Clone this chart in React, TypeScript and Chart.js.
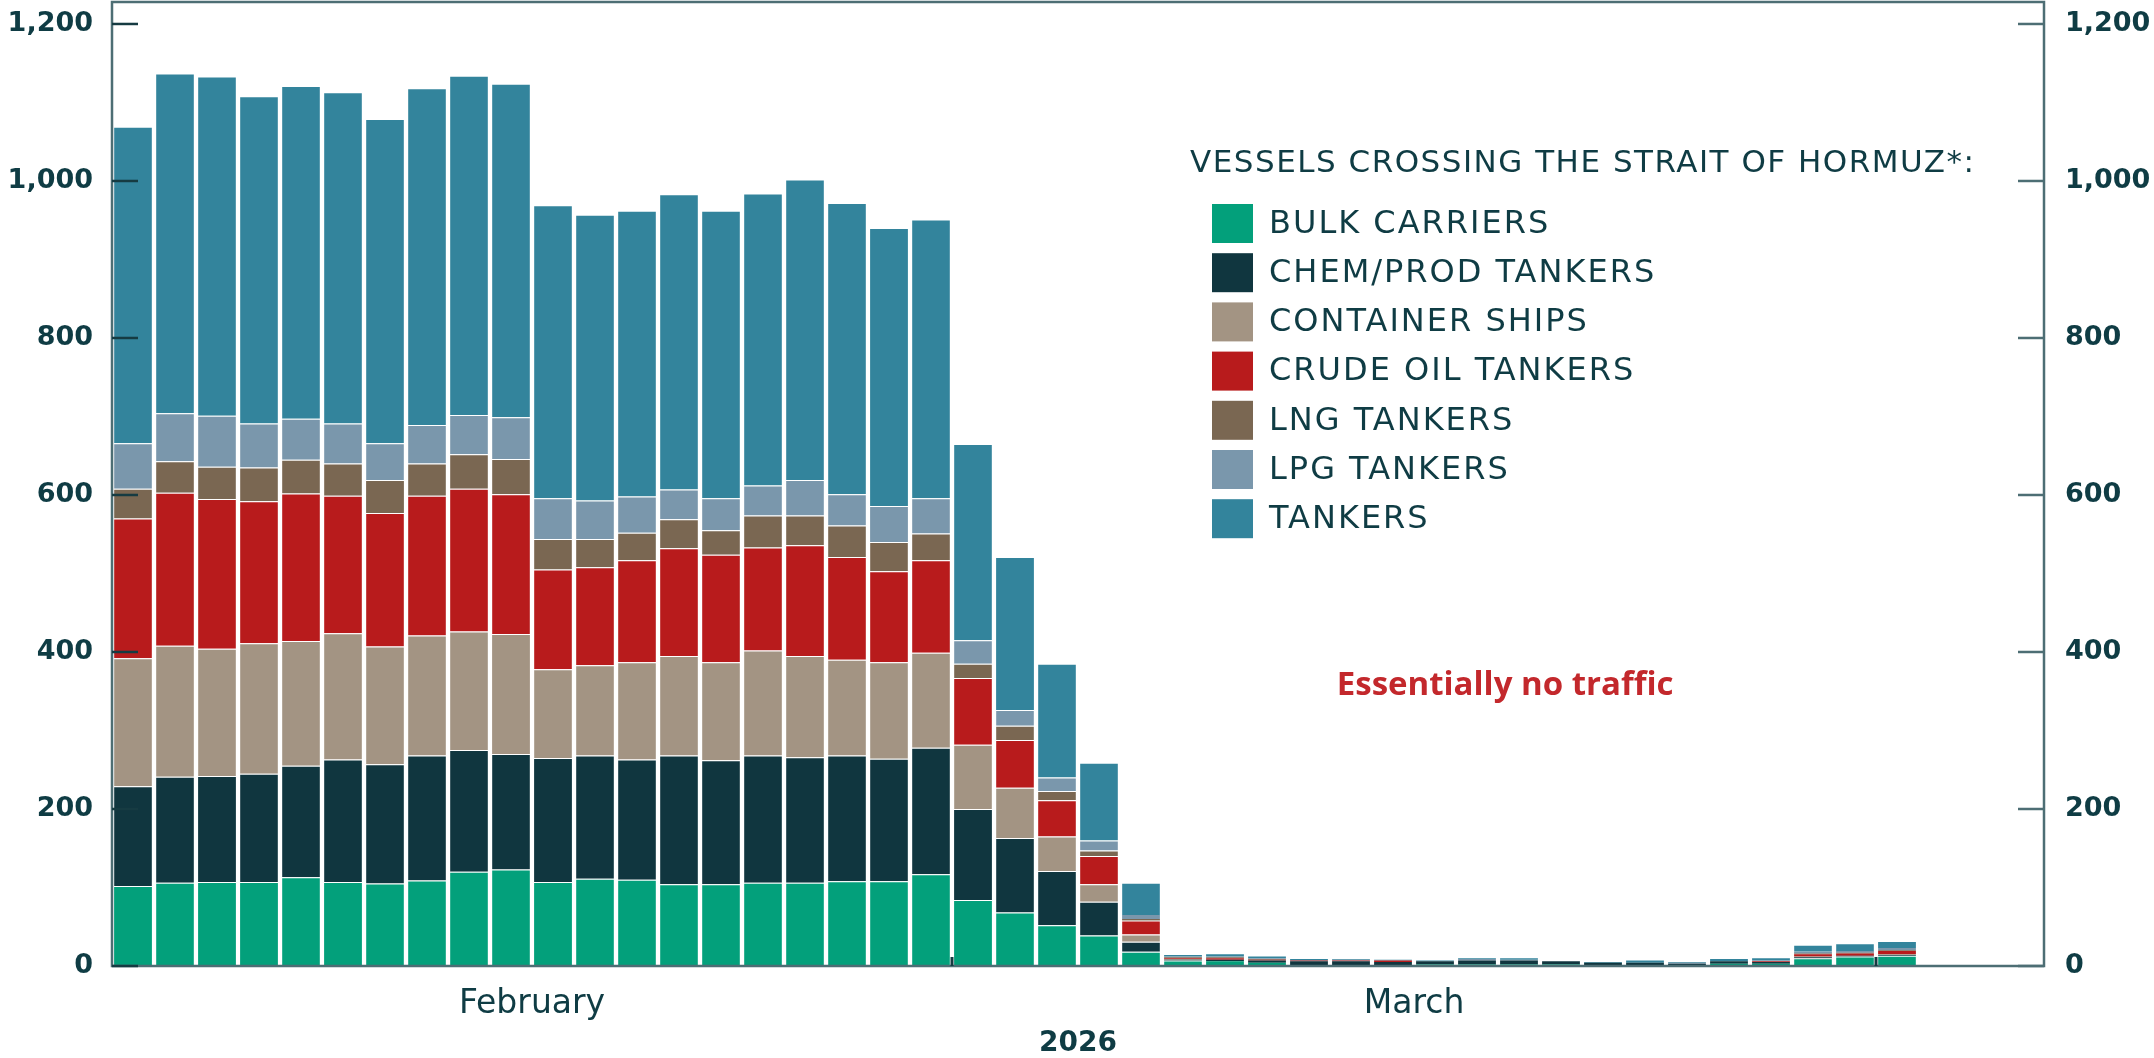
import React, { useEffect, useRef } from 'react';
import { Chart, registerables } from 'chart.js';

Chart.register(...registerables);

// ---- categories (one bar per day) ----
const dayLabels = [
  '2026-02-09', '2026-02-10', '2026-02-11', '2026-02-12', '2026-02-13', '2026-02-14', '2026-02-15',
  '2026-02-16', '2026-02-17', '2026-02-18', '2026-02-19', '2026-02-20', '2026-02-21', '2026-02-22',
  '2026-02-23', '2026-02-24', '2026-02-25', '2026-02-26', '2026-02-27', '2026-02-28',
  '2026-03-01', '2026-03-02', '2026-03-03', '2026-03-04', '2026-03-05', '2026-03-06', '2026-03-07',
  '2026-03-08', '2026-03-09', '2026-03-10', '2026-03-11', '2026-03-12', '2026-03-13', '2026-03-14',
  '2026-03-15', '2026-03-16', '2026-03-17', '2026-03-18', '2026-03-19', '2026-03-20', '2026-03-21',
  '2026-03-22', '2026-03-23', '2026-03-24', '2026-03-25', '2026-03-26',
];

// ---- series values ----
const bulkCarriers = [102, 106, 107, 107, 113, 107, 105, 109, 120, 123, 107, 111, 110, 104, 104, 106, 106, 108, 108, 117, 84, 68, 52, 39, 18, 7, 6, 4, 1, 1, 1, 2, 2, 2, 2, 1, 1, 0, 3, 3, 10, 12, 13, null, null, null];
const chemProdTankers = [127, 135, 135, 138, 142, 156, 152, 159, 155, 147, 158, 157, 153, 164, 158, 162, 160, 160, 156, 161, 116, 95, 69, 43, 13, 1, 2, 3, 5, 5, 4, 4, 5, 5, 4, 3, 3, 3, 3, 2, 1, 1, 1, null, null, null];
const containerShips = [163, 167, 162, 166, 159, 161, 150, 153, 151, 153, 113, 115, 124, 127, 125, 134, 129, 122, 123, 121, 82, 64, 44, 22, 9, 1, 0, 0, 0, 0, 0, 0, 0, 0, 0, 0, 0, 0, 0, 0, 1, 0, 1, null, null, null];
const crudeOilTankers = [178, 195, 191, 181, 188, 175, 170, 178, 182, 178, 127, 125, 130, 137, 137, 131, 141, 131, 116, 118, 85, 61, 46, 36, 18, 1, 2, 1, 1, 1, 2, 0, 0, 0, 0, 0, 0, 0, 0, 1, 3, 3, 4, null, null, null];
const lngTankers = [38, 40, 41, 43, 43, 41, 42, 41, 44, 45, 39, 36, 35, 37, 31, 41, 38, 40, 37, 34, 18, 18, 12, 7, 2, 1, 1, 1, 0, 0, 0, 0, 0, 0, 0, 0, 0, 0, 0, 0, 1, 1, 1, null, null, null];
const lpgTankers = [58, 61, 65, 56, 52, 51, 47, 49, 50, 53, 52, 49, 46, 38, 41, 38, 45, 40, 46, 45, 30, 20, 17, 13, 5, 1, 1, 1, 0, 1, 0, 0, 2, 1, 0, 0, 0, 1, 0, 1, 2, 2, 3, null, null, null];
const tankers = [403, 433, 432, 417, 424, 422, 413, 429, 432, 425, 373, 364, 364, 376, 366, 372, 383, 371, 354, 355, 250, 195, 145, 99, 41, 2, 3, 2, 2, 1, 1, 1, 1, 2, 0, 1, 3, 1, 3, 3, 9, 10, 9, null, null, null];

const seriesNames = ['BULK CARRIERS', 'CHEM/PROD TANKERS', 'CONTAINER SHIPS', 'CRUDE OIL TANKERS', 'LNG TANKERS', 'LPG TANKERS', 'TANKERS'];

// ---- tick labels ----
const yTickValues = [0, 200, 400, 600, 800, 1000, 1200];
const monthLabels = ['February', 'March'];
const monthCenters = [9.5, 30.5];
const yearLabel = '2026';
const dayBoundaryTicks = [20, 42];
const legendTitle = 'VESSELS CROSSING THE STRAIT OF HORMUZ*:';
const noteText = 'Essentially no traffic';
const notePos = { x: 32.67, y: 357 };

// ---- styles ----
const COLORS = ['#03A07B', '#10363F', '#A39483', '#B81B1C', '#7A6752', '#7A97AC', '#33849C'];
const TEXT = '#0F3C44';
const AXIS = '#4D6E74';
const TICK_DARK = '#163B42';
const NUM_FONT = "'DejaVu Sans'";

const noPad = (s: any) => {
  s.paddingTop = 0;
  s.paddingBottom = 0;
};

const framePlugin = {
  id: 'frame',
  afterDatasetsDraw(chart: any) {
    const { ctx, chartArea: a, scales } = chart;
    ctx.save();
    // frame
    ctx.strokeStyle = AXIS;
    ctx.lineWidth = 2.5;
    ctx.strokeRect(a.left, a.top, a.right - a.left, a.bottom - a.top);
    // inward y ticks
    const y = scales.y;
    for (const t of y.ticks) {
      const p = y.getPixelForValue(t.value);
      ctx.strokeStyle = TICK_DARK;
      ctx.beginPath();
      ctx.moveTo(a.left, p);
      ctx.lineTo(a.left + 26, p);
      ctx.stroke();
      ctx.strokeStyle = AXIS;
      ctx.beginPath();
      ctx.moveTo(a.right - 26, p);
      ctx.lineTo(a.right, p);
      ctx.stroke();
    }
    // small day boundary ticks
    const x = scales.x;
    ctx.strokeStyle = TICK_DARK;
    ctx.lineWidth = 3;
    for (const i of dayBoundaryTicks) {
      const p = (x.getPixelForValue(i - 1) + x.getPixelForValue(i)) / 2;
      ctx.beginPath();
      ctx.moveTo(p, a.bottom);
      ctx.lineTo(p, a.bottom - 9);
      ctx.stroke();
    }
    // annotation
    ctx.fillStyle = '#C3282C';
    ctx.font = "bold 33px 'Open Sans'";
    ctx.textAlign = 'center';
    ctx.textBaseline = 'middle';
    ctx.fillText(noteText, scales.xm.getPixelForValue(notePos.x), y.getPixelForValue(notePos.y));
    // legend
    const lx = a.left + 1078;
    ctx.textAlign = 'left';
    ctx.fillStyle = TEXT;
    ctx.font = "31px 'DejaVu Sans'";
    (ctx as any).letterSpacing = '1.5px';
    ctx.fillText(legendTitle, lx, a.top + 162);
    (ctx as any).letterSpacing = '2px';
    ctx.font = "32px 'DejaVu Sans'";
    chart.data.datasets.forEach((ds: any, i: number) => {
      const cy = a.top + 221.5 + i * 49.2;
      ctx.fillStyle = ds.backgroundColor;
      ctx.fillRect(lx + 22, cy - 19.5, 41, 39);
      ctx.fillStyle = TEXT;
      ctx.fillText(ds.label, lx + 79, cy + 1);
    });
    ctx.restore();
  },
};

export default function App() {
  const ref = useRef<HTMLCanvasElement>(null);
  useEffect(() => {
    document.body.style.margin = '0';
    const series = [bulkCarriers, chemProdTankers, containerShips, crudeOilTankers, lngTankers, lpgTankers, tankers];
    const yTicks = {
      color: TEXT,
      font: { family: NUM_FONT, size: 27, weight: 'bold' },
      callback: (v: any) => Number(v).toLocaleString('en-US'),
    };
    const chart = new Chart(ref.current as HTMLCanvasElement, {
      type: 'bar',
      data: {
        labels: dayLabels,
        datasets: series.map((d, i) => ({
          label: seriesNames[i],
          data: d,
          backgroundColor: COLORS[i],
          borderColor: 'rgba(255,255,255,0.55)',
          borderWidth: (c: any) => {
            const v = c.raw;
            return { top: v != null && v > 6 ? 1 : 0, left: 0, right: 0, bottom: 0 };
          },
          borderSkipped: false,
          categoryPercentage: 1,
          barPercentage: 0.9,
          xAxisID: 'x',
          yAxisID: 'y',
        })),
      },
      options: {
        animation: false,
        responsive: false,
        devicePixelRatio: 1,
        layout: { padding: { top: 2, left: 0, right: 0, bottom: 0 } },
        plugins: { legend: { display: false }, tooltip: { enabled: false } },
        scales: {
          x: { type: 'category', stacked: true, display: false, offset: true },
          xm: {
            type: 'linear',
            position: 'bottom',
            min: -0.5,
            max: 45.5,
            offset: false,
            bounds: 'data',
            grid: { display: false, drawTicks: false, offset: false },
            border: { display: false },
            afterBuildTicks: (s: any) => {
              s.ticks = monthCenters.map((v) => ({ value: v }));
            },
            afterFit: (s: any) => {
              s.height = 92;
              s.paddingLeft = 0;
              s.paddingRight = 0;
            },
            ticks: {
              autoSkip: false,
              maxRotation: 0,
              padding: 19,
              color: TEXT,
              font: { family: NUM_FONT, size: 33 },
              callback: (v: any) => {
                const k = monthCenters.indexOf(Number(v));
                return k >= 0 ? monthLabels[k] : '';
              },
            },
            title: {
              display: true,
              text: yearLabel,
              color: TEXT,
              padding: { top: 0, bottom: -3 },
              font: { family: NUM_FONT, size: 28, weight: 'bold' },
            },
          },
          y: {
            type: 'linear',
            position: 'left',
            stacked: true,
            min: 0,
            max: 1228,
            grid: { display: false, drawTicks: false },
            border: { display: false },
            afterBuildTicks: (s: any) => {
              s.ticks = yTickValues.map((v) => ({ value: v }));
            },
            afterFit: (s: any) => {
              s.width = 112;
              noPad(s);
            },
            ticks: { ...yTicks, padding: 19 },
          },
          y2: {
            type: 'linear',
            position: 'right',
            min: 0,
            max: 1228,
            grid: { display: false, drawTicks: false },
            border: { display: false },
            afterBuildTicks: (s: any) => {
              s.ticks = yTickValues.map((v) => ({ value: v }));
            },
            afterFit: (s: any) => {
              s.width = 110;
              noPad(s);
            },
            ticks: { ...yTicks, padding: 21 },
          },
        },
      } as any,
      plugins: [framePlugin],
    });
    return () => chart.destroy();
  }, []);
  return (
    <div style={{ width: 2154, height: 1058 }}>
      <canvas ref={ref} width={2154} height={1058} style={{ display: 'block', width: 2154, height: 1058 }} />
    </div>
  );
}
